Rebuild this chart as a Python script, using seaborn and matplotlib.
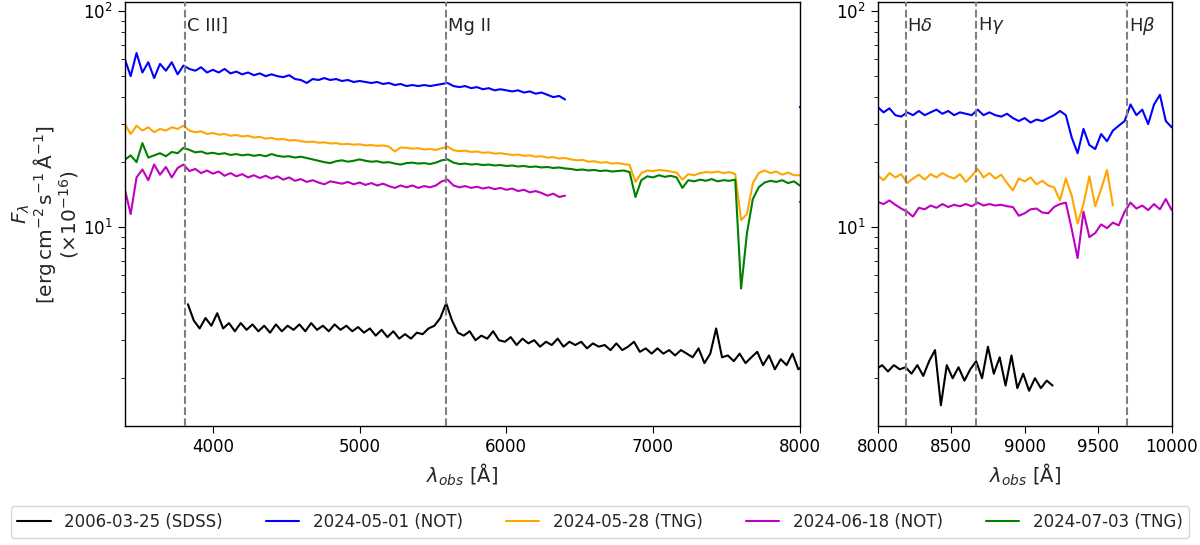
import seaborn as sns
import matplotlib.pyplot as plt
import matplotlib.transforms as mtransforms
import numpy as np
import pandas as pd

step = 40
dates = ['2006-03-25 (SDSS)', '2024-05-01 (NOT)', '2024-05-28 (TNG)',
         '2024-06-18 (NOT)', '2024-07-03 (TNG)']
colors = ['black', 'blue', 'orange', 'm', 'green']

black_start = 3830
black_flux = [4.4, 3.7, 3.4, 3.8, 3.5,
              4.0, 3.4, 3.6, 3.3, 3.6,
              3.35, 3.55, 3.3, 3.5, 3.25,
              3.55, 3.3, 3.5, 3.35, 3.55,
              3.3, 3.6, 3.35, 3.5, 3.3,
              3.55, 3.35, 3.5, 3.3, 3.45,
              3.25, 3.4, 3.15, 3.35, 3.1,
              3.3, 3.05, 3.2, 3.05, 3.25,
              3.2, 3.4, 3.5, 3.8, 4.45,
              3.7, 3.25, 3.15, 3.3, 3.0,
              3.15, 3.05, 3.3, 3.0, 2.95,
              3.1, 2.85, 3.05, 2.9, 3.0,
              2.8, 2.95, 2.85, 3.05, 2.8,
              2.95, 2.85, 2.95, 2.75, 2.9,
              2.8, 2.85, 2.7, 2.9, 2.7,
              2.8, 2.95, 2.65, 2.75, 2.6,
              2.75, 2.6, 2.7, 2.55, 2.7,
              2.6, 2.5, 2.75, 2.35, 2.6,
              3.4, 2.5, 2.55, 2.4, 2.6,
              2.35, 2.5, 2.65, 2.3, 2.55,
              2.2, 2.45, 2.3, 2.6, 2.2,
              2.3, 2.15, 2.3, 2.2, 2.25,
              2.1, 2.3, 2.05, 2.4, 2.7,
              1.5, 2.3, 2.0, 2.25, 1.95,
              2.2, 2.4, 2.0, 2.8, 2.1,
              2.5, 1.85, 2.55, 1.8, 2.1,
              1.75, 2.0, 1.8, 1.95, 1.85]

blue_blue_start = 3400
blue_flux = [60, 50, 64, 52, 58,
             49, 57, 53, 58, 51,
             56, 54, 53, 55, 52,
             53.5, 52, 54, 51.5, 52.5,
             51, 52, 50.5, 51.5, 50,
             51, 50, 49.5, 50.5, 48.5,
             48, 46.5, 48.5, 48, 49,
             48, 48.5, 47.5, 48, 47,
             47.5, 47, 46.5, 47, 46,
             46.5, 45.5, 46, 45, 45.5,
             45, 45.5, 45, 45.5, 46,
             46.5, 45, 44.5, 45, 44,
             44.5, 43.5, 44, 43, 43.5,
             43, 42.5, 43, 42, 42.5,
             41.5, 42, 41, 40, 40.5,
             39]
blue_red_start = 8000
blue_red_flux = [36, 34, 35.5, 33, 32.5,
                 34, 33, 34.5, 33, 34,
                 35, 33.5, 34.5, 33, 34,
                 33.5, 33, 35, 33, 34,
                 33, 32.5, 33.5, 32, 31,
                 32, 30.5, 31.5, 31, 32,
                 33, 34.5, 33, 26, 22,
                 28.5, 24, 23, 27, 25,
                 28, 29.5, 31, 37, 33,
                 35, 30, 37, 41, 31,
                 29]

orange_start = 3400
orange_flux = [30, 27, 29.5, 28, 29,
               27.5, 28.5, 28, 29, 28.5,
               29.5, 28, 27.5, 27.8, 27,
               27.3, 26.8, 27, 26.5, 26.7,
               26.3, 26.5, 26, 26.2, 25.7,
               25.9, 25.5, 25.6, 25.2, 25.3,
               25, 24.8, 24.9, 24.6, 24.7,
               24.4, 24.5, 24.2, 24.3, 24.1,
               24.2, 23.9, 24, 23.8, 23.9,
               23.6, 22.4, 23.4, 23.3, 23.1,
               23.2, 22.9, 23, 22.8, 23.2,
               23.6, 22.7, 22.5, 22.6, 22.3,
               22.4, 22.1, 22.2, 21.9, 22,
               21.8, 21.6, 21.7, 21.4, 21.5,
               21.2, 21.3, 21, 21.1, 20.8,
               20.9, 20.6, 20.4, 20.5, 20.1,
               20.2, 19.9, 20, 19.7, 19.8,
               19.6, 19.4, 16.2, 17.8, 18.3,
               18.2, 18.4, 18.3, 18.1, 17.9,
               16.6, 17.6, 17.4, 17.8, 18,
               17.9, 18.1, 17.8, 18, 17.6,
               10.8, 11.5, 16, 17.8, 18.3,
               17.8, 18.1, 17.5, 17.9, 17.4,
               17.4, 16.5, 17.8, 17, 17.6,
               16, 16.8, 17.5, 16.6, 17.6,
               17, 17.8, 17.2, 16.8, 17.6,
               16.2, 17.3, 18.6, 17, 17.8,
               16.8, 17.5, 16, 14.8, 16.8,
               16.3, 17, 15.8, 16.4, 15.6,
               15.3, 13.3, 16.8, 14, 10.4,
               12.8, 17.2, 12.5, 15, 18.4,
               12.6]

magenta_start = 3400
magenta_flux = [15, 11.5, 17, 18.5, 16.5,
                19.5, 17.5, 19, 17, 18.8,
                19.5, 18.2, 18.6, 17.8, 18.3,
                17.7, 18.1, 17.3, 17.8, 17.2,
                17.6, 17, 17.4, 16.9, 17.3,
                16.8, 17.2, 16.6, 17, 16.4,
                16.7, 16.2, 16.5, 16.1, 15.8,
                16.3, 16.1, 15.9, 16.2, 15.8,
                16.1, 15.7, 16, 15.6, 15.9,
                15.5, 15.2, 15.6, 15.3, 15.6,
                15.2, 15.5, 15.3, 15.6, 16.3,
                16.6, 15.6, 15.3, 15.5, 15.2,
                15.4, 15.1, 15.3, 15, 15.2,
                14.9, 15.1, 14.7, 14.9, 14.5,
                14.7, 14.4, 14, 14.3, 13.8,
                14]
magenta_red_start = 8000
magenta_red_flux = [13.1, 12.8, 13.3, 12.7, 12.2,
                    11.8, 11.2, 12.3, 12.1, 12.6,
                    12.3, 12.8, 12.4, 12.7, 12.5,
                    12.8, 12.5, 13, 12.6, 12.8,
                    12.6, 12.7, 12.5, 12.4, 11.3,
                    11.6, 12.1, 12.2, 11.7, 11.6,
                    12.4, 12.8, 13, 9.8, 7.2,
                    11.8, 9, 9.4, 10.3, 9.9,
                    10.5, 10.2, 11.8, 13, 12.2,
                    12.6, 12, 12.8, 12.1, 13.5,
                    12]

green_start = 3400
green_flux = [20.5, 21.5, 20, 24.5, 21,
              21.5, 22, 21.3, 22.3, 22,
              23.3, 22.8, 22.2, 22.4, 21.9,
              22.1, 21.8, 22, 21.6, 21.8,
              21.5, 21.7, 21.4, 21.6, 21.3,
              21.8, 21.4, 21.2, 21.3, 21,
              21.2, 20.9, 20.6, 20.3, 20,
              19.8, 20.2, 20.4, 20.1, 20.3,
              20.6, 20.3, 20.1, 20.2, 19.9,
              20, 19.7, 19.5, 19.8, 19.9,
              19.7, 19.8, 19.6, 19.9, 20.4,
              20.6, 19.9, 19.6, 19.7, 19.5,
              19.6, 19.4, 19.5, 19.3, 19.4,
              19.2, 19.3, 19.1, 19.2, 19,
              19.1, 18.9, 19, 18.8, 18.9,
              18.7, 18.6, 18.4, 18.5, 18.3,
              18.4, 18.2, 18.3, 18.1, 18.2,
              18.3, 18, 13.8, 16.5, 17.2,
              17, 17.4, 17.1, 17.3, 17,
              15.2, 16.5, 16.3, 16.6, 16.4,
              16.7, 16.3, 16.5, 16.4, 16.6,
              5.2, 9.4, 13.5, 15.3, 16.1,
              16.4, 16.2, 16.5, 16, 16.3,
              15.6]

# emission lines (observed wavelength)
line_names = ['C III]', 'Mg II', r'H$\delta$', r'H$\gamma$', r'H$\beta$']
line_wl = [3810, 5590, 8190, 8670, 9695]

segments = [
    (dates[0], black_start, black_flux),
    (dates[1], blue_blue_start, blue_flux),
    (dates[1], blue_red_start, blue_red_flux),
    (dates[2], orange_start, orange_flux),
    (dates[3], magenta_start, magenta_flux),
    (dates[3], magenta_red_start, magenta_red_flux),
    (dates[4], green_start, green_flux),
]
frames = []
for k, (d, start, flux) in enumerate(segments):
    frames.append(pd.DataFrame({'wl': start + step * np.arange(len(flux)),
                                'flux': flux, 'date': d, 'seg': k}))
spec = pd.concat(frames, ignore_index=True)

sns.set_style('ticks')
plt.rcParams['font.family'] = ['DejaVu Sans']
plt.rcParams['axes.edgecolor'] = 'black'
plt.rcParams['axes.linewidth'] = 1.0
plt.rcParams['xtick.color'] = 'black'
plt.rcParams['ytick.color'] = 'black'

fig = plt.figure(figsize=(12, 5.45), dpi=100)
ax1 = fig.add_axes([0.104, 0.218, 0.5625, 0.778])
ax2 = fig.add_axes([0.7314, 0.218, 0.245, 0.778])
palette = dict(zip(dates, colors))

for ax, xlim in [(ax1, (3400, 8000)), (ax2, (8000, 10000))]:
    sns.lineplot(data=spec, x='wl', y='flux', hue='date', units='seg',
                 estimator=None, hue_order=dates, palette=palette, lw=1.5,
                 ax=ax, legend=(ax is ax1))
    ax.set_yscale('log')
    ax.set_xlim(xlim)
    ax.set_ylim(1.2, 110)
    ax.tick_params(labelsize=12, length=5)
    ax.tick_params(which='minor', length=3)
    ax.set_xlabel(r'$\lambda_{obs}$ [Å]', fontsize=14)
    ax.set_ylabel('')
    trans = mtransforms.blended_transform_factory(ax.transData, ax.transAxes)
    for name, w in zip(line_names, line_wl):
        if xlim[0] < w < xlim[1]:
            ax.axvline(w, color='gray', ls='--', lw=1.5, zorder=3)
            ax.text(w + 12, 0.945, name, transform=trans, fontsize=13,
                    ha='left', va='center')

ax1.set_ylabel(r'$F_\lambda$' + '\n' +
               r'[$\mathrm{erg\,cm^{-2}\,s^{-1}\,\AA^{-1}}$]' + '\n' +
               r'($\times10^{-16}$)', fontsize=14.5, linespacing=0.95,
               labelpad=2)

handles, labels = ax1.get_legend_handles_labels()
ax1.get_legend().remove()
fig.legend(handles, labels, loc='center', bbox_to_anchor=(0.5, 0.042),
           ncol=5, fontsize=12, frameon=True, columnspacing=2.6)

fig.savefig('out.png', dpi=100)
